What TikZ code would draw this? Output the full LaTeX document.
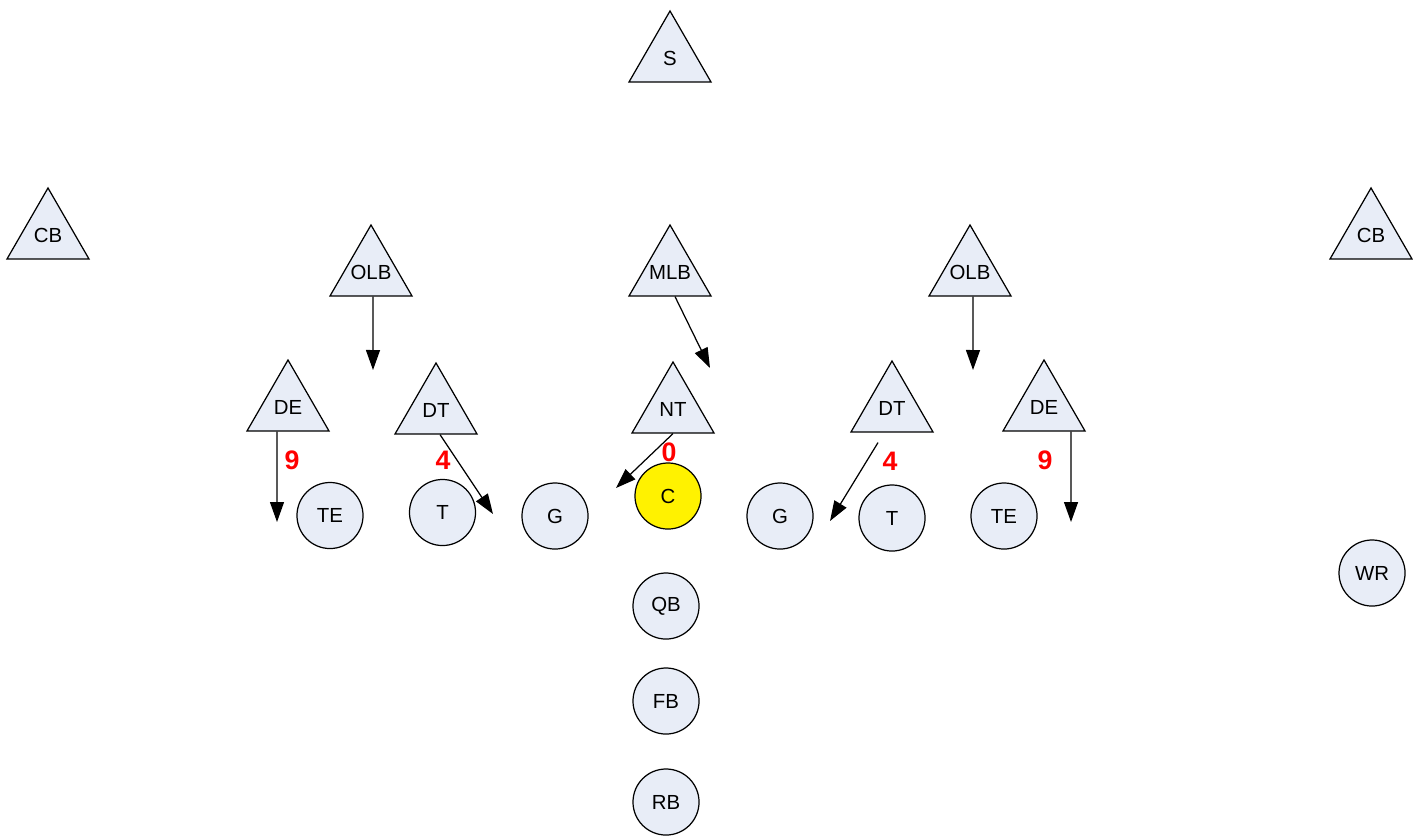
\documentclass[tikz,border=0pt]{standalone}
\usepackage{fontspec}
\setmainfont{Liberation Sans}
\usetikzlibrary{shapes.geometric,arrows.meta}

\definecolor{playerfill}{RGB}{232,237,247}

\begin{document}
\begin{tikzpicture}[x=0.01cm,y=-0.01cm]
			\tikzstyle{every node}+=[inner sep=0pt]
			\tikzstyle{defender}=[regular polygon, regular polygon sides=3, inner sep=-0.3cm, minimum size=0.946cm, draw=black, line width=0.35pt, fill=playerfill, font=\fontsize{5.8}{7}\selectfont]
			\tikzstyle{offense}=[circle, minimum size=0.66cm, draw=black, line width=0.35pt, fill=playerfill, font=\fontsize{5.8}{7}\selectfont]
			\tikzstyle{gap}=[text=red, font=\fontsize{7.6}{9}\selectfont\bfseries]
			\tikzstyle{move}=[line width=0.35pt, -{Triangle[length=0.2cm,width=0.14cm]}]
			
			\useasboundingbox (0,0) rectangle (1413,836);
			
			\node[defender] (s) at (670,58.3) {S};
			\node[defender] (cbL) at (48,235.3) {CB};
			\node[defender] (cbR) at (1371,235.3) {CB};
			\node[defender] (olbL) at (371,272.3) {OLB};
			\node[defender] (mlb) at (670,272.3) {MLB};
			\node[defender] (olbR) at (970,272.3) {OLB};
			\node[defender] (deL) at (288,407.3) {DE};
			\node[defender] (dtL) at (436,410.3) {DT};
			\node[defender] (nt) at (673,409.3) {NT};
			\node[defender] (dtR) at (892,408.3) {DT};
			\node[defender] (deR) at (1044,407.3) {DE};
			
			\node[offense] (teL) at (330,515.5) {TE};
			\node[offense] (tL) at (442.5,512.5) {T};
			\node[offense] (gL) at (555,516) {G};
			\node[offense, fill=yellow] (c) at (668,496) {C};
			\node[offense] (gR) at (780,516) {G};
			\node[offense] (tR) at (892,518) {T};
			\node[offense] (teR) at (1004,516) {TE};
			\node[offense] (wr) at (1372,573) {WR};
			\node[offense] (qb) at (666,606) {QB};
			\node[offense] (fb) at (666,701) {FB};
			\node[offense] (rb) at (666,802) {RB};
			
			\coordinate (olbLend) at (373,370);
			\coordinate (mlbend) at (710,368);
			\coordinate (olbRend) at (973,370);
			\coordinate (deLend) at (277,522);
			\coordinate (dtLend) at (493,514);
			\coordinate (ntend) at (616,488);
			\coordinate (dtRend) at (830,521);
			\coordinate (deRend) at (1071,522);
			
			\draw[move] ([xshift=0.02cm]olbL.south) -- (olbLend);
			\draw[move] ([xshift=0.05cm]mlb.south) -- (mlbend);
			\draw[move] ([xshift=0.03cm]olbR.south) -- (olbRend);
			\draw[move] ([xshift=-0.11cm]deL.south) -- (deLend);
			\draw[move] ([xshift=0.04cm]dtL.south) -- (dtLend);
			\draw[move] (nt.south) -- (ntend);
			\draw[move] ([xshift=-0.14cm,yshift=-0.1cm]dtR.south) -- (dtRend);
			\draw[move] ([xshift=0.27cm]deR.south) -- (deRend);
			
			\node[gap] (gapL9) at (292,460) {9};
			\node[gap] (gapL4) at (443,460) {4};
			\node[gap] (gap0) at (669,452) {0};
			\node[gap] (gapR4) at (890,461) {4};
			\node[gap] (gapR9) at (1045,460) {9};
		\end{tikzpicture}
\end{document}
